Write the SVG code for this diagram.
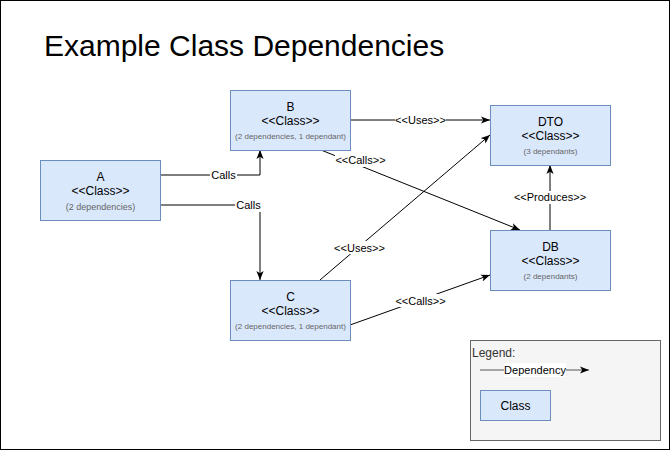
<svg xmlns="http://www.w3.org/2000/svg" width="671" height="451" viewBox="0 0 671 451">
<style>
text{font-family:"Liberation Sans",Arial,sans-serif;fill:#000}
.node{fill:#dae8fc;stroke:#6c8ebf;stroke-width:1}
.n{font-size:12px;text-anchor:middle}
.sub{font-size:8px;text-anchor:middle;fill:#666}
.edge{fill:none;stroke:#000;stroke-width:1}
.lbl{font-size:11px;text-anchor:middle}
.lblbg{fill:#fff}
</style>
<defs>
<marker id="arr" viewBox="0 0 10 8" refX="10" refY="4" markerWidth="9" markerHeight="7.5" markerUnits="userSpaceOnUse" orient="auto">
<path d="M0,0 L10,4 L0,8 L2.5,4 z" fill="#000"/>
</marker>
</defs>
<rect x="0.5" y="0.5" width="669" height="449" fill="#fff" stroke="#000" stroke-width="1"/>
<text x="44" y="56" style="font-size:30px">Example Class Dependencies</text>

<g id="connectors">
<polyline class="edge" points="160,175 260,175 260,150" marker-end="url(#arr)"/>
<rect class="lblbg" x="210" y="169" width="27" height="13"/>
<text class="lbl" x="223.5" y="179">Calls</text>

<polyline class="edge" points="160,205 260,205 260,280" marker-end="url(#arr)"/>
<rect class="lblbg" x="235" y="199" width="27" height="13"/>
<text class="lbl" x="248.5" y="209">Calls</text>

<line class="edge" x1="350" y1="120" x2="490" y2="120" marker-end="url(#arr)"/>
<rect class="lblbg" x="395" y="114" width="51" height="13"/>
<text class="lbl" x="420.5" y="124">&lt;&lt;Uses&gt;&gt;</text>

<line class="edge" x1="321" y1="150" x2="520" y2="230" marker-end="url(#arr)"/>
<rect class="lblbg" x="335" y="154" width="51" height="13"/>
<text class="lbl" x="360.5" y="164">&lt;&lt;Calls&gt;&gt;</text>

<line class="edge" x1="320" y1="280" x2="490" y2="135" marker-end="url(#arr)"/>
<rect class="lblbg" x="334" y="241" width="51" height="13"/>
<text class="lbl" x="359.5" y="251.5">&lt;&lt;Uses&gt;&gt;</text>

<line class="edge" x1="350" y1="325" x2="490" y2="275" marker-end="url(#arr)"/>
<rect class="lblbg" x="395" y="294" width="51" height="13"/>
<text class="lbl" x="420.5" y="304.5">&lt;&lt;Calls&gt;&gt;</text>

<line class="edge" x1="550" y1="230" x2="550" y2="165" marker-end="url(#arr)"/>
<rect class="lblbg" x="514" y="191" width="72" height="13"/>
<text class="lbl" x="550" y="201">&lt;&lt;Produces&gt;&gt;</text>
</g>

<g id="node-A">
<rect class="node" x="40.5" y="160.5" width="120" height="60"/>
<text class="n" x="100.5" y="181">A</text>
<text class="n" x="100.5" y="195">&lt;&lt;Class&gt;&gt;</text>
<text class="sub" x="100.5" y="209.5" style="font-size:9px">(2 dependencies)</text>
</g>
<g id="node-B">
<rect class="node" x="230.5" y="90.5" width="120" height="60"/>
<text class="n" x="290.5" y="111">B</text>
<text class="n" x="290.5" y="125">&lt;&lt;Class&gt;&gt;</text>
<text class="sub" x="290.5" y="139">(2 dependencies, 1 dependant)</text>
</g>
<g id="node-C">
<rect class="node" x="230.5" y="280.5" width="120" height="60"/>
<text class="n" x="290.5" y="301">C</text>
<text class="n" x="290.5" y="315">&lt;&lt;Class&gt;&gt;</text>
<text class="sub" x="290.5" y="329">(2 dependencies, 1 dependant)</text>
</g>
<g id="node-DTO">
<rect class="node" x="490.5" y="105.5" width="120" height="60"/>
<text class="n" x="550.5" y="126">DTO</text>
<text class="n" x="550.5" y="140">&lt;&lt;Class&gt;&gt;</text>
<text class="sub" x="550.5" y="154">(3 dependants)</text>
</g>
<g id="node-DB">
<rect class="node" x="490.5" y="230.5" width="120" height="60"/>
<text class="n" x="550.5" y="251">DB</text>
<text class="n" x="550.5" y="265">&lt;&lt;Class&gt;&gt;</text>
<text class="sub" x="550.5" y="279">(2 dependants)</text>
</g>

<g id="legend">
<rect x="470.5" y="340.5" width="190" height="100" fill="#f5f5f5" stroke="#666" stroke-width="1"/>
<text x="472" y="357" style="font-size:12px;fill:#333">Legend:</text>
<line x1="480" y1="370" x2="589" y2="370" stroke="#555" stroke-width="1" marker-end="url(#arr)"/>
<rect class="lblbg" x="504" y="363" width="62" height="14"/>
<text class="lbl" x="535" y="374">Dependency</text>
<rect class="node" x="480.5" y="390.5" width="70" height="30"/>
<text class="n" x="515.5" y="410">Class</text>
</g>
</svg>
